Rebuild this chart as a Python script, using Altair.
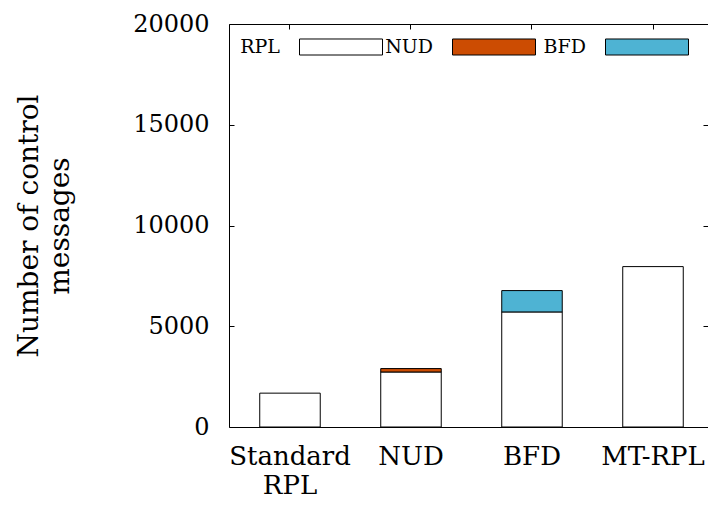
import altair as alt
import pandas as pd

categories = ["Standard RPL", "NUD", "BFD", "MT-RPL"]
series = ["RPL", "NUD", "BFD"]
rpl_values = [1680, 2730, 5710, 7960]
nud_values = [0, 170, 0, 0]
bfd_values = [0, 0, 1060, 0]
y_ticks = [0, 5000, 10000, 15000, 20000]
colors = ["#ffffff", "#cc4c02", "#4eb3d3"]

rows = []
for i, cat in enumerate(categories):
    for rank, (name, vals) in enumerate(zip(series, [rpl_values, nud_values, bfd_values])):
        if vals[i] > 0:
            rows.append({"category": cat, "series": name, "value": vals[i], "rank": rank})
df = pd.DataFrame(rows)

FONT = "DejaVu Serif"

x_scale = alt.Scale(domain=categories, paddingInner=0.5, paddingOuter=0.2293, align=0.554)
y_scale = alt.Scale(domain=[0, 20000], nice=False, zero=True)

bars = alt.Chart(df).mark_bar(stroke="black", strokeWidth=1, opacity=1).encode(
    x=alt.X("category:N", sort=categories, scale=x_scale,
            axis=alt.Axis(orient="bottom", title=None, labelAngle=0, tickSize=0, domain=False,
                          labelFont=FONT, labelFontSize=26, labelColor="black",
                          labelExpr="split(datum.label, ' ')", labelLineHeight=29,
                          labelBaseline="alphabetic", labelPadding=37)),
    y=alt.Y("value:Q", stack="zero", scale=y_scale,
            axis=alt.Axis(orient="left", values=y_ticks, format="d", tickSize=0, domain=False,
                          grid=False, labelFont=FONT, labelFontSize=24, labelColor="black",
                          labelPadding=20,
                          title=["Number of control", "messages"], titleFont=FONT,
                          titleFontSize=28, titleFontWeight="normal", titleColor="black",
                          titleLineHeight=31.5, titleAngle=270, titleAlign="center",
                          titleBaseline="alphabetic", titleX=-192, titleY=201.5)),
    fill=alt.Fill("series:N", scale=alt.Scale(domain=series, range=colors),
                  legend=alt.Legend(orient="none", legendX=70, legendY=-19.5,
                                    direction="horizontal",
                                    title=None, symbolType="M-1,-0.193H1V0.193H-1Z",
                                    symbolSize=6889, symbolStrokeColor="black",
                                    symbolStrokeWidth=1, symbolOpacity=1,
                                    labelFont=FONT, labelFontSize=19, labelColor="black",
                                    labelAlign="right", labelOffset={"expr": "-103"},
                                    labelBaseline="middle",
                                    columnPadding=0, gridAlign="all", padding=0)),
    order=alt.Order("rank:Q", sort="ascending"),
)

ticks_top_right = alt.Chart(df).mark_bar(opacity=0).encode(
    x=alt.X("category:N", sort=categories, scale=x_scale,
            axis=alt.Axis(orient="top", offset=-5, tickSize=5, labels=False, domain=False,
                          title=None, tickColor="black", tickWidth=1)),
    y=alt.Y("value:Q", scale=y_scale,
            axis=alt.Axis(orient="right", offset=-5, tickSize=5, labels=False, domain=False,
                          grid=False, values=y_ticks, title=None, tickColor="black",
                          tickWidth=1)),
)

ticks_left = alt.Chart(df).mark_bar(opacity=0).encode(
    x=alt.X("category:N", sort=categories, scale=x_scale, axis=None),
    y=alt.Y("value:Q", scale=y_scale,
            axis=alt.Axis(orient="left", offset=-5, tickSize=5, labels=False, domain=False,
                          grid=False, values=y_ticks, title=None, tickColor="black",
                          tickWidth=1)),
)

chart = alt.layer(bars, ticks_top_right, ticks_left).resolve_axis(
    x="independent", y="independent"
).properties(
    width=479, height=403,
    autosize=alt.AutoSizeParams(type="none"),
    padding={"left": 221, "top": 16, "right": 0, "bottom": 71},
    background="white",
).configure_view(stroke="black", strokeWidth=1)

chart.save("out.html", embed_options={"renderer": "svg", "actions": False})
